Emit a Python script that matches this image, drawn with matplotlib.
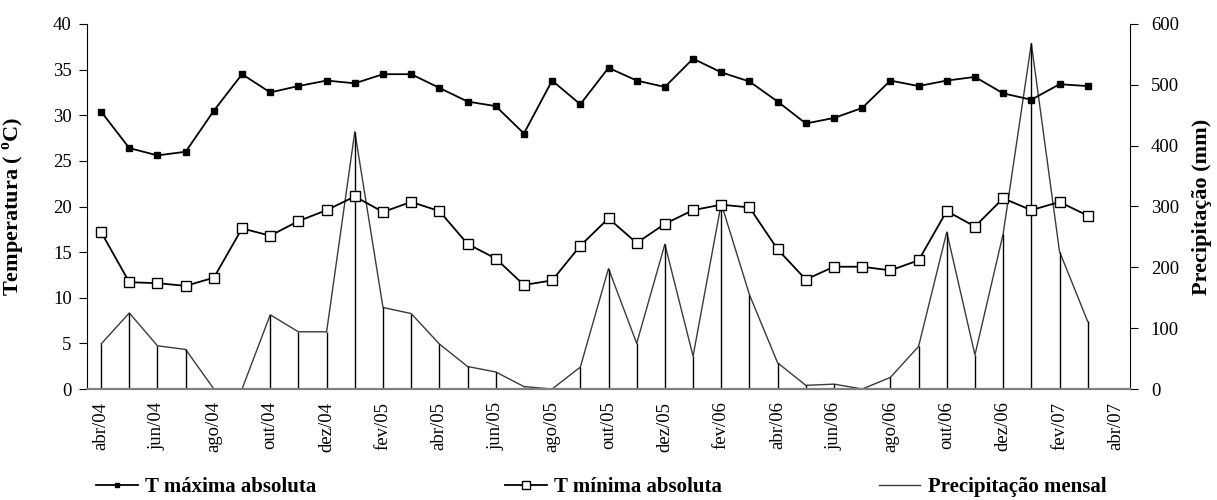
import numpy as np
import matplotlib.pyplot as plt

plt.rcParams['font.family'] = ['Liberation Serif', 'DejaVu Serif']
plt.rcParams['mathtext.fontset'] = 'custom'
plt.rcParams['mathtext.rm'] = 'Liberation Serif'
plt.rcParams['mathtext.bf'] = 'Liberation Serif:bold'

# monthly series, abr/04 .. mar/07
months = ['abr/04', 'mai/04', 'jun/04', 'jul/04', 'ago/04', 'set/04', 'out/04', 'nov/04', 'dez/04',
          'jan/05', 'fev/05', 'mar/05', 'abr/05', 'mai/05', 'jun/05', 'jul/05', 'ago/05', 'set/05',
          'out/05', 'nov/05', 'dez/05', 'jan/06', 'fev/06', 'mar/06', 'abr/06', 'mai/06', 'jun/06',
          'jul/06', 'ago/06', 'set/06', 'out/06', 'nov/06', 'dez/06', 'jan/07', 'fev/07', 'mar/07',
          'abr/07']

t_max = [30.4, 26.4, 25.6, 26.0, 30.5, 34.5, 32.5, 33.2, 33.8, 33.5, 34.5, 34.5,
         33.0, 31.5, 31.0, 28.0, 33.8, 31.2, 35.2, 33.8, 33.1, 36.2, 34.7, 33.7,
         31.5, 29.1, 29.7, 30.8, 33.8, 33.2, 33.8, 34.2, 32.4, 31.7, 33.4, 33.2]

t_min = [17.2, 11.7, 11.6, 11.3, 12.2, 17.6, 16.8, 18.4, 19.6, 21.1, 19.4, 20.5,
         19.5, 15.9, 14.3, 11.4, 11.9, 15.7, 18.7, 16.0, 18.1, 19.6, 20.2, 19.9,
         15.3, 12.0, 13.4, 13.4, 13.0, 14.1, 19.5, 17.8, 20.9, 19.6, 20.5, 19.0]

precip = [74, 125, 71, 65, 0, 0, 122, 94, 94, 423, 134, 124,
          74, 37, 28, 4, 0, 36, 198, 75, 238, 54, 305, 155,
          43, 6, 8, 0, 19, 70, 258, 56, 255, 568, 226, 111]

legend_labels = ['T máxima absoluta', 'T mínima absoluta', 'Precipitação mensal']

x = np.arange(len(t_max))

fig = plt.figure(figsize=(12.17, 5), dpi=100)
ax = fig.add_axes([0.0715, 0.222, 0.857, 0.730])
ax2 = ax.twinx()

# precipitation on the right axis, with drop lines to zero
ax2.plot(x, precip, color='#3a3a3a', lw=1.0, zorder=2)
ax2.vlines(x, 0, precip, color='black', lw=1.0, zorder=2)
ax2.set_ylim(0, 600)
ax2.set_yticks(np.arange(0, 601, 100))

l1, = ax.plot(x, t_max, color='black', lw=1.3, marker='s', ms=4.5,
              mfc='black', mec='black', zorder=5)
l2, = ax.plot(x, t_min, color='black', lw=1.3, marker='s', ms=7.5,
              mfc='white', mec='black', mew=1.0, zorder=5)
ax.set_zorder(ax2.get_zorder() + 1)
ax.patch.set_visible(False)

ax.set_xlim(-0.5, 36.5)
ax.set_ylim(0, 40)
ax.set_yticks(np.arange(0, 41, 5))
ax.set_xticks(np.arange(0, 37, 2))
ax.set_xticklabels(months[::2], rotation=90, fontsize=13.5)
ax.tick_params(axis='x', length=0, pad=9)
ax.tick_params(axis='y', labelsize=13.5, length=6, direction='out', pad=5)
ax2.tick_params(axis='y', labelsize=13.5, length=6, direction='out', pad=9)

for a in (ax, ax2):
    a.spines['top'].set_visible(False)
ax.spines['right'].set_visible(False)
ax2.spines['left'].set_visible(False)
ax2.spines['bottom'].set_visible(False)
ax.spines['bottom'].set_color('#808080')
ax.spines['bottom'].set_linewidth(1.6)

ax.set_ylabel('Temperatura ( $^{\\mathbf{o}}$C)', fontsize=16, fontweight='bold')
ax.yaxis.set_label_coords(-0.058, 0.5)
ax2.set_ylabel('Precipitação (mm)', fontsize=16, fontweight='bold')
ax2.yaxis.set_label_coords(1.059, 0.5)

# one legend box per entry, spread along the bottom
l3, = ax2.plot([], [], color='#3a3a3a', lw=1.0)
for handle, label, xpos in zip([l1, l2, l3], legend_labels, [0.079, 0.415, 0.722]):
    fig.legend([handle], [label], loc='center left', bbox_to_anchor=(xpos, 0.026),
               frameon=False, borderpad=0, borderaxespad=0,
               prop={'weight': 'bold', 'size': 15}, handlelength=2.0,
               handletextpad=0.35, markerscale=0.7)

fig.savefig('out.png', dpi=100)
